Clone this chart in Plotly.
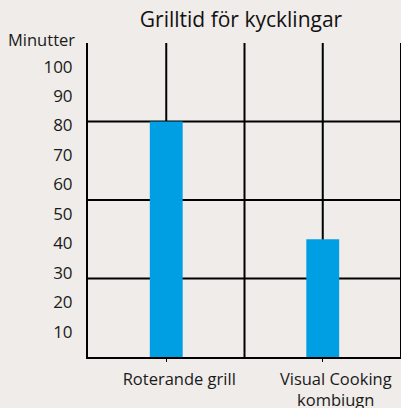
import plotly.graph_objects as go

title = "Grilltid för kycklingar"
y_title = "Minutter"
categories = ["Roterande grill", "Visual Cooking<br>kombiugn"]
minutes = [80, 40]
y_ticks = [10, 20, 30, 40, 50, 60, 70, 80, 90, 100]

bg = "#EFECE9"
font = "Open Sans"

fig = go.Figure()
fig.add_trace(go.Bar(x=categories, y=minutes, marker=dict(color="#009FE3", line=dict(width=0)),
                     width=0.21))

shapes = []
for f in [0.25, 0.5, 0.75]:
    shapes.append(dict(type="line", xref="paper", yref="paper", x0=0, x1=1, y0=f, y1=f,
                       line=dict(color="black", width=2), layer="below"))
for f in [0.25, 0.5, 0.75, 1.0]:
    shapes.append(dict(type="line", xref="paper", yref="paper", x0=f, x1=f, y0=0, y1=1,
                       line=dict(color="black", width=2), layer="below"))

fig.update_layout(
    width=401, height=408,
    margin=dict(l=88, r=0, t=43, b=51),
    paper_bgcolor=bg, plot_bgcolor=bg,
    font=dict(family=font, size=16, color="#1a1a1a"),
    showlegend=False,
    shapes=shapes,
    title=dict(text=title, x=0.601, xanchor="center", y=0.951, yanchor="middle",
               font=dict(size=21, color="#111")),
    annotations=[dict(text=y_title, xref="paper", yref="paper", x=-0.034, y=1.01,
                      xanchor="right", yanchor="middle", showarrow=False,
                      font=dict(size=16.5))],
    xaxis=dict(showgrid=False, showline=True, linecolor="black", linewidth=2,
               automargin=False,
               ticks="outside", ticklen=3, tickcolor="black", tickwidth=1,
               ticklabelshift=13, ticklabelstandoff=3, tickfont=dict(size=16.5)),
    yaxis=dict(range=[0, 106.67], tickvals=y_ticks, showgrid=False, zeroline=False,
               automargin=False,
               showline=True, linecolor="black", linewidth=2, ticks="",
               ticklabelshift=4, ticklabelstandoff=10, tickfont=dict(size=17)),
)
fig.write_html("out.html", post_script="document.body.style.margin='0';",
               config={"displayModeBar": False})
